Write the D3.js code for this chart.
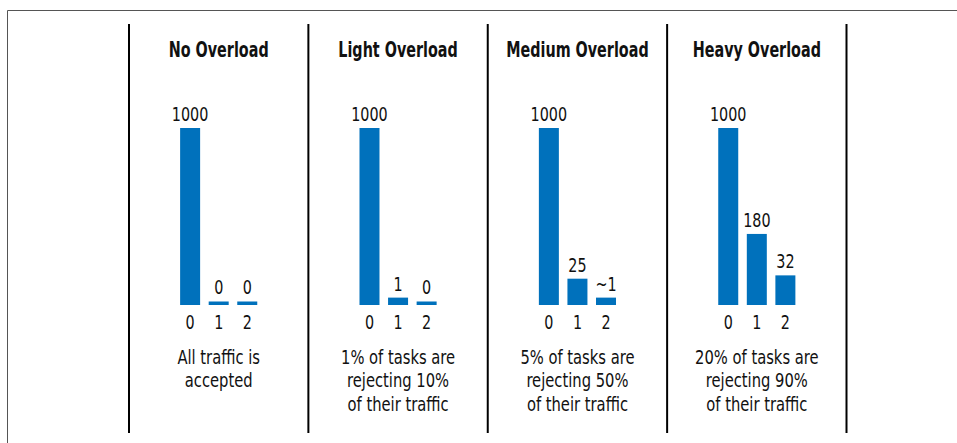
<!DOCTYPE html>
<html>
<head>
<meta charset="utf-8">
<script src="https://cdn.jsdelivr.net/npm/d3@7"></script>
<style>
    body { margin: 0; background: #fff; }
    svg { display: block; }
    text { font-family: "DejaVu Sans Condensed", "DejaVu Sans", sans-serif; fill: #111; }
    .title { font-weight: bold; font-size: 21px; }
    .val, .tlab { font-size: 19px; }
    .desc { font-size: 20px; }
</style>
</head>
<body>
<svg id="chart" width="957" height="443"></svg>
<script>

/*
    Chart data
 */
var panelTitles = ["No Overload", "Light Overload", "Medium Overload", "Heavy Overload"];
var taskLabels = ["0", "1", "2"];

// rejected requests per task, one row per panel
var rejectValues = [
    [1000, 0, 0],
    [1000, 1, 0],
    [1000, 25, 1],
    [1000, 180, 32]
];
var valueLabels = [
    ["1000", "0", "0"],
    ["1000", "1", "0"],
    ["1000", "25", "~1"],
    ["1000", "180", "32"]
];
var descriptions = [
    ["All traffic is", "accepted"],
    ["1% of tasks are", "rejecting 10%", "of their traffic"],
    ["5% of tasks are", "rejecting 50%", "of their traffic"],
    ["20% of tasks are", "rejecting 90%", "of their traffic"]
];

var width = 957;
var height = 443;

var svg = d3.select("#chart");

// frame (top + left only)
svg.append("line")
    .attr("x1", 7.5).attr("x2", width)
    .attr("y1", 10.5).attr("y2", 10.5)
    .attr("stroke", "#555").attr("stroke-width", 1);
svg.append("line")
    .attr("x1", 7.5).attr("x2", 7.5)
    .attr("y1", 10.5).attr("y2", height)
    .attr("stroke", "#555").attr("stroke-width", 1);

// panels across the page
var panelX = d3.scaleBand()
    .domain(d3.range(panelTitles.length))
    .range([129, 846.5]);

// separators
svg.selectAll(".sep")
    .data(d3.range(panelTitles.length + 1))
    .enter().append("line")
    .attr("class", "sep")
    .attr("x1", function(d){ return 129 + d * panelX.step(); })
    .attr("x2", function(d){ return 129 + d * panelX.step(); })
    .attr("y1", 24).attr("y2", 433)
    .attr("stroke", "#000").attr("stroke-width", 2);

var baseY = 305;

// bar heights are schematic in the original, a power scale fits them best
var y = d3.scalePow()
    .exponent(0.55)
    .domain([0, 1000])
    .range([baseY - 3.5, 128]);

var x = d3.scaleBand()
    .domain(taskLabels)
    .range([-40, 40])
    .paddingInner(0.3)
    .paddingOuter(0.05);

var panel = svg.selectAll(".panel")
    .data(panelTitles)
    .enter().append("g")
    .attr("class", "panel")
    .attr("transform", function(d, i){
        return "translate(" + (panelX(i) + panelX.bandwidth() / 2) + ",0)";
    });

panel.append("text")
    .attr("class", "title")
    .attr("x", 0).attr("y", 57)
    .attr("text-anchor", "middle")
    .text(function(d){ return d; });

panel.each(function(title, p){

    var g = d3.select(this);

    var bars = taskLabels.map(function(t, i){
        return {task: t, value: rejectValues[p][i], label: valueLabels[p][i]};
    });

    g.selectAll("rect")
        .data(bars)
        .enter().append("rect")
        .attr("x", function(d){ return x(d.task); })
        .attr("width", x.bandwidth())
        .attr("y", function(d){ return y(d.value); })
        .attr("height", function(d){ return baseY - y(d.value); })
        .attr("fill", "#0071bc");

    g.selectAll(".val")
        .data(bars)
        .enter().append("text")
        .attr("class", "val")
        .attr("text-anchor", "middle")
        .attr("x", function(d){ return x(d.task) + x.bandwidth() / 2; })
        .attr("y", function(d){ return y(d.value) - 7; })
        .text(function(d){ return d.label; });

    // x axis labels
    var axis = d3.axisBottom(x).tickSize(0).tickPadding(0);
    var ax = g.append("g")
        .attr("transform", "translate(0," + (baseY + 24) + ")")
        .call(axis);
    ax.select(".domain").remove();
    ax.selectAll("text")
        .attr("class", "tlab")
        .attr("fill", null)
        .attr("dy", 0)
        .attr("y", 0);
    ax.attr("font-family", null).attr("font-size", null);

    g.selectAll(".desc")
        .data(descriptions[p])
        .enter().append("text")
        .attr("class", "desc")
        .attr("text-anchor", "middle")
        .attr("x", 0)
        .attr("y", function(d, i){ return 364 + i * 23.5; })
        .text(function(d){ return d; });
});

// the original uses a narrower face, squeeze the glyphs around their anchor
var squeeze = function(sel, k){
    sel.each(function(){
        var cx = +this.getAttribute("x") || 0;
        d3.select(this)
            .attr("transform", "translate(" + cx + ",0) scale(" + k + ",1) translate(" + (-cx) + ",0)");
    });
};
squeeze(svg.selectAll("text.title"), 0.76);
squeeze(svg.selectAll("text.val"), 0.84);
squeeze(svg.selectAll("text.tlab"), 0.84);
squeeze(svg.selectAll("text.desc"), 0.82);

</script>
</body>
</html>
